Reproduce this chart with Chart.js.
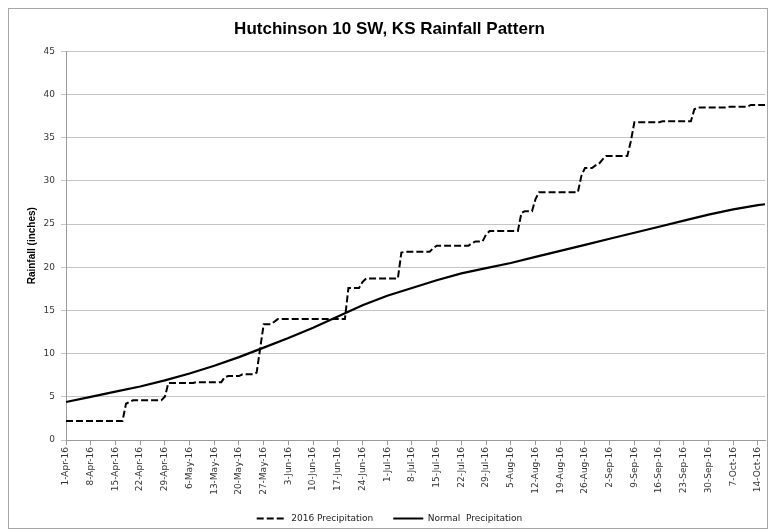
<!DOCTYPE html>
<html>
<head>
<meta charset="utf-8">
<script src="https://cdn.jsdelivr.net/npm/chart.js@4.4.1/dist/chart.umd.min.js"></script>
<style>
  html, body { margin: 0; padding: 0; background: #fff; }
  #rainChart { display: block; }
</style>
</head>
<body>
<canvas id="rainChart" width="769" height="531"></canvas>
<script>
// daily categories, 1-Apr-16 .. 16-Oct-16
const dates = [
  '1-Apr-16','2-Apr-16','3-Apr-16','4-Apr-16','5-Apr-16','6-Apr-16','7-Apr-16','8-Apr-16','9-Apr-16','10-Apr-16',
  '11-Apr-16','12-Apr-16','13-Apr-16','14-Apr-16','15-Apr-16','16-Apr-16','17-Apr-16','18-Apr-16','19-Apr-16','20-Apr-16',
  '21-Apr-16','22-Apr-16','23-Apr-16','24-Apr-16','25-Apr-16','26-Apr-16','27-Apr-16','28-Apr-16','29-Apr-16','30-Apr-16',
  '1-May-16','2-May-16','3-May-16','4-May-16','5-May-16','6-May-16','7-May-16','8-May-16','9-May-16','10-May-16',
  '11-May-16','12-May-16','13-May-16','14-May-16','15-May-16','16-May-16','17-May-16','18-May-16','19-May-16','20-May-16',
  '21-May-16','22-May-16','23-May-16','24-May-16','25-May-16','26-May-16','27-May-16','28-May-16','29-May-16','30-May-16','31-May-16',
  '1-Jun-16','2-Jun-16','3-Jun-16','4-Jun-16','5-Jun-16','6-Jun-16','7-Jun-16','8-Jun-16','9-Jun-16','10-Jun-16',
  '11-Jun-16','12-Jun-16','13-Jun-16','14-Jun-16','15-Jun-16','16-Jun-16','17-Jun-16','18-Jun-16','19-Jun-16','20-Jun-16',
  '21-Jun-16','22-Jun-16','23-Jun-16','24-Jun-16','25-Jun-16','26-Jun-16','27-Jun-16','28-Jun-16','29-Jun-16','30-Jun-16',
  '1-Jul-16','2-Jul-16','3-Jul-16','4-Jul-16','5-Jul-16','6-Jul-16','7-Jul-16','8-Jul-16','9-Jul-16','10-Jul-16',
  '11-Jul-16','12-Jul-16','13-Jul-16','14-Jul-16','15-Jul-16','16-Jul-16','17-Jul-16','18-Jul-16','19-Jul-16','20-Jul-16',
  '21-Jul-16','22-Jul-16','23-Jul-16','24-Jul-16','25-Jul-16','26-Jul-16','27-Jul-16','28-Jul-16','29-Jul-16','30-Jul-16','31-Jul-16',
  '1-Aug-16','2-Aug-16','3-Aug-16','4-Aug-16','5-Aug-16','6-Aug-16','7-Aug-16','8-Aug-16','9-Aug-16','10-Aug-16',
  '11-Aug-16','12-Aug-16','13-Aug-16','14-Aug-16','15-Aug-16','16-Aug-16','17-Aug-16','18-Aug-16','19-Aug-16','20-Aug-16',
  '21-Aug-16','22-Aug-16','23-Aug-16','24-Aug-16','25-Aug-16','26-Aug-16','27-Aug-16','28-Aug-16','29-Aug-16','30-Aug-16','31-Aug-16',
  '1-Sep-16','2-Sep-16','3-Sep-16','4-Sep-16','5-Sep-16','6-Sep-16','7-Sep-16','8-Sep-16','9-Sep-16','10-Sep-16',
  '11-Sep-16','12-Sep-16','13-Sep-16','14-Sep-16','15-Sep-16','16-Sep-16','17-Sep-16','18-Sep-16','19-Sep-16','20-Sep-16',
  '21-Sep-16','22-Sep-16','23-Sep-16','24-Sep-16','25-Sep-16','26-Sep-16','27-Sep-16','28-Sep-16','29-Sep-16','30-Sep-16',
  '1-Oct-16','2-Oct-16','3-Oct-16','4-Oct-16','5-Oct-16','6-Oct-16','7-Oct-16','8-Oct-16','9-Oct-16','10-Oct-16',
  '11-Oct-16','12-Oct-16','13-Oct-16','14-Oct-16','15-Oct-16','16-Oct-16'
];

// labelled ticks on the date axis
const xTickLabels = [
  '1-Apr-16','8-Apr-16','15-Apr-16','22-Apr-16','29-Apr-16','6-May-16','13-May-16','20-May-16','27-May-16',
  '3-Jun-16','10-Jun-16','17-Jun-16','24-Jun-16','1-Jul-16','8-Jul-16','15-Jul-16','22-Jul-16','29-Jul-16',
  '5-Aug-16','12-Aug-16','19-Aug-16','26-Aug-16','2-Sep-16','9-Sep-16','16-Sep-16','23-Sep-16','30-Sep-16',
  '7-Oct-16','14-Oct-16'
];

// cumulative 2016 rainfall, one value per day (inches)
const precip2016 = [
  // Apr
  2.2,2.2,2.2,2.2,2.2,2.2,2.2,2.2,2.2,2.2,2.2,2.2,2.2,2.2,2.2,2.2,2.2,
  4.2,4.4,4.6,4.6,4.6,4.6,4.6,4.6,4.6,4.6,4.6,5.0,6.6,
  // May
  6.6,6.6,6.6,6.6,6.6,6.6,6.6,6.7,6.7,6.7,6.7,6.7,6.7,6.7,6.7,
  7.3,7.4,7.4,7.4,7.4,7.6,7.6,7.6,7.6,7.8,10.6,13.4,13.4,13.4,13.7,14.0,
  // Jun
  14.0,14.0,14.0,14.0,14.0,14.0,14.0,14.0,14.0,14.0,14.0,14.0,14.0,14.0,14.0,14.0,14.0,14.0,14.0,
  17.6,17.6,17.6,17.6,18.3,18.7,18.7,18.7,18.7,18.7,18.7,
  // Jul
  18.7,18.7,18.7,18.7,21.7,21.8,21.8,21.8,21.8,21.8,21.8,21.8,21.8,22.2,
  22.5,22.5,22.5,22.5,22.5,22.5,22.5,22.5,22.5,22.5,22.8,23.0,23.0,23.0,23.8,24.2,24.2,
  // Aug
  24.2,24.2,24.2,24.2,24.2,24.2,24.2,26.3,26.5,26.5,26.5,27.9,
  28.7,28.7,28.7,28.7,28.7,28.7,28.7,28.7,28.7,28.7,28.7,28.7,
  30.6,31.5,31.5,31.5,31.8,32.0,32.5,
  // Sep
  32.9,32.9,32.9,32.9,32.9,32.9,32.9,34.6,
  36.8,36.8,36.8,36.8,36.8,36.8,36.8,36.8,
  36.9,36.9,36.9,36.9,36.9,36.9,36.9,36.9,36.9,38.3,38.5,38.5,38.5,38.5,
  // Oct
  38.5,38.5,38.5,38.5,38.5,38.6,38.6,38.6,38.6,38.6,38.6,38.8,38.8,38.8,38.8,38.8
];

// normal cumulative rainfall (inches)
const normalDates = [
  '1-Apr-16','8-Apr-16','15-Apr-16','22-Apr-16','29-Apr-16','6-May-16','13-May-16','20-May-16','27-May-16',
  '3-Jun-16','10-Jun-16','17-Jun-16','24-Jun-16','1-Jul-16','8-Jul-16','15-Jul-16','22-Jul-16','29-Jul-16',
  '5-Aug-16','12-Aug-16','19-Aug-16','26-Aug-16','2-Sep-16','9-Sep-16','16-Sep-16','23-Sep-16','30-Sep-16',
  '7-Oct-16','14-Oct-16','16-Oct-16'
];
const normalValues = [
  4.4, 5.0, 5.6, 6.2, 6.9, 7.7, 8.6, 9.6, 10.7,
  11.8, 13.0, 14.3, 15.6, 16.7, 17.6, 18.5, 19.3, 19.9,
  20.5, 21.2, 21.9, 22.6, 23.3, 24.0, 24.7, 25.4, 26.1,
  26.7, 27.2, 27.3
];

const tickFont = { family: 'DejaVu Sans', size: 9 };
const axisGrey = '#9a9a9a';

const framePlugin = {
  id: 'frame',
  beforeDraw(chart) {
    const ctx = chart.ctx;
    ctx.save();
    ctx.fillStyle = '#fff';
    ctx.fillRect(0, 0, chart.width, chart.height);
    ctx.strokeStyle = '#a6a6a6';
    ctx.lineWidth = 1;
    ctx.strokeRect(8.5, 8.5, 759, 520);
    ctx.restore();
  }
};

new Chart(document.getElementById('rainChart').getContext('2d'), {
  type: 'line',
  data: {
    labels: dates,
    datasets: [{
      label: '2016 Precipitation',
      data: precip2016,
      borderColor: '#000',
      borderWidth: 2,
      borderDash: [7, 3],
      pointRadius: 0,
      fill: false,
      tension: 0
    }, {
      label: 'Normal  Precipitation',
      data: normalDates.map((d, i) => ({ x: d, y: normalValues[i] })),
      borderColor: '#000',
      borderWidth: 2.2,
      pointRadius: 0,
      fill: false,
      tension: 0
    }]
  },
  options: {
    responsive: false,
    animation: false,
    layout: { padding: { left: 14, right: 4, top: 0, bottom: -2 } },
    plugins: {
      title: {
        display: true,
        text: 'Hutchinson 10 SW, KS Rainfall Pattern',
        color: '#000',
        font: { family: 'Liberation Sans', size: 17, weight: 'bold' },
        padding: { top: 19, bottom: 12 }
      },
      legend: {
        position: 'bottom',
        labels: {
          usePointStyle: true,
          pointStyle: 'line',
          pointStyleWidth: 30,
          color: '#222',
          font: tickFont,
          padding: 20,
          // point-style labels lose the dataset dash, so copy it back
          generateLabels: (chart) => Chart.defaults.plugins.legend.labels.generateLabels(chart).map((item, i) => ({
            ...item,
            lineDash: chart.data.datasets[i].borderDash || [],
            lineWidth: 2
          }))
        }
      },
      tooltip: { enabled: false }
    },
    scales: {
      x: {
        type: 'category',
        offset: false,
        grid: {
          drawOnChartArea: false,
          tickLength: 5,
          color: (c) => (c.tick && xTickLabels.includes(dates[c.index])) ? axisGrey : 'rgba(0,0,0,0)'
        },
        border: { color: axisGrey },
        ticks: {
          autoSkip: false,
          minRotation: 90,
          maxRotation: 90,
          padding: 2,
          color: '#333',
          font: tickFont,
          callback: (val, i) => xTickLabels.includes(dates[i]) ? dates[i] : ''
        },
        afterFit: (s) => { s.height = 54; s.paddingLeft = 0; s.paddingRight = 0; }
      },
      y: {
        min: 0,
        max: 45,
        ticks: { stepSize: 5, padding: 6, color: '#333', font: tickFont },
        grid: { color: '#c4c4c4', tickLength: 5 },
        border: { color: axisGrey },
        title: {
          display: true,
          text: 'Rainfall (inches)',
          color: '#000',
          font: { family: 'Liberation Sans', size: 10, weight: 'bold' },
          padding: { top: 12, bottom: 0 }
        },
        afterFit: (s) => { s.width = 52; }
      }
    }
  },
  plugins: [framePlugin]
});
</script>
</body>
</html>
